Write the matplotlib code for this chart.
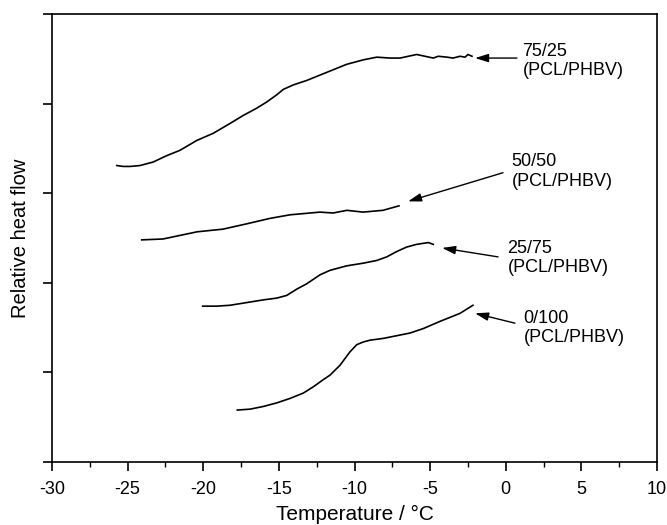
import matplotlib
matplotlib.use("Agg")
import matplotlib.pyplot as plt
from matplotlib.ticker import MultipleLocator, NullFormatter

plt.rcParams['font.family'] = ['Liberation Sans', 'DejaVu Sans']
plt.rcParams['axes.unicode_minus'] = False

# curves (temperature in degC, relative heat flow)
t_7525 = [-25.72, -25.29, -24.84, -24.18, -23.30, -22.42, -21.54, -20.43, -19.34, -18.23,
          -17.35, -16.47, -15.80, -15.14, -14.71, -14.05, -13.16, -12.28, -11.40, -10.52,
          -9.42, -8.53, -7.65, -6.99, -5.89, -4.79, -4.46, -3.88, -3.49, -3.02, -2.69, -2.50, -2.23]
h_7525 = [3.31, 3.30, 3.30, 3.31, 3.35, 3.42, 3.48, 3.59, 3.67, 3.78,
          3.87, 3.95, 4.02, 4.10, 4.16, 4.21, 4.26, 4.32, 4.38, 4.44,
          4.49, 4.52, 4.51, 4.51, 4.55, 4.51, 4.53, 4.52, 4.51, 4.53, 4.52, 4.55, 4.53]

t_5050 = [-24.07, -22.66, -20.41, -18.69, -17.11, -15.59, -14.26, -12.28, -11.42, -10.50, -9.44, -8.12, -7.06]
h_5050 = [2.48, 2.49, 2.57, 2.60, 2.66, 2.72, 2.76, 2.79, 2.78, 2.81, 2.79, 2.81, 2.86]

t_2575 = [-20.04, -19.11, -18.23, -17.13, -16.03, -15.14, -14.48, -13.82, -13.16, -12.28, -11.62,
          -11.18, -10.52, -9.42, -8.53, -7.87, -7.21, -6.55, -5.89, -5.12, -4.79]
h_2575 = [1.74, 1.74, 1.75, 1.78, 1.81, 1.83, 1.86, 1.93, 1.99, 2.09, 2.14,
          2.16, 2.19, 2.22, 2.25, 2.29, 2.35, 2.40, 2.43, 2.45, 2.43]

t_0100 = [-17.75, -16.91, -16.03, -15.14, -14.26, -13.38, -12.72, -12.06, -11.62, -10.96, -10.30,
          -9.85, -9.42, -8.98, -8.10, -7.21, -6.33, -5.45, -4.35, -3.02, -2.17]
h_0100 = [0.58, 0.59, 0.62, 0.66, 0.71, 0.77, 0.84, 0.92, 0.97, 1.08, 1.23,
          1.31, 1.34, 1.36, 1.38, 1.41, 1.44, 1.49, 1.57, 1.66, 1.75]

labels = ["75/25\n(PCL/PHBV)", "50/50\n(PCL/PHBV)", "25/75\n(PCL/PHBV)", "0/100\n(PCL/PHBV)"]
# arrow head, arrow tail, label top-left
heads = [(-2.03, 4.51), (-6.46, 2.91), (-4.21, 2.39), (-2.03, 1.66)]
tails = [(0.74, 4.51), (-0.18, 3.23), (-0.51, 2.29), (0.61, 1.55)]
label_pos = [(1.10, 4.68), (0.38, 3.45), (0.12, 2.48), (1.18, 1.70)]

fig = plt.figure(figsize=(6.67, 5.25), dpi=100)
ax = fig.add_axes([0.078, 0.12, 0.907, 0.853])

for t, h in [(t_7525, h_7525), (t_5050, h_5050), (t_2575, h_2575), (t_0100, h_0100)]:
    ax.plot(t, h, color='black', lw=1.2)

for lab, hd, tl, lp in zip(labels, heads, tails, label_pos):
    ax.annotate("", xy=hd, xytext=tl,
                arrowprops=dict(arrowstyle='-|>,head_length=0.8,head_width=0.25',
                                color='black', lw=1.0, shrinkA=0, shrinkB=0))
    ax.text(lp[0], lp[1], lab, fontsize=13, ha='left', va='top', linespacing=1.2)

ax.set_xlim(-30, 10)
ax.set_ylim(0, 5)
ax.xaxis.set_major_locator(MultipleLocator(5))
ax.xaxis.set_minor_locator(MultipleLocator(2.5))
ax.yaxis.set_major_locator(MultipleLocator(1))
ax.yaxis.set_major_formatter(NullFormatter())
ax.tick_params(axis='both', which='major', direction='out', length=6.5, width=1.2,
               labelsize=13, pad=7)
ax.tick_params(axis='x', which='minor', direction='out', length=3.5, width=1.0)
for s in ax.spines.values():
    s.set_linewidth(1.2)

ax.set_xlabel("Temperature / °C", fontsize=15, labelpad=5)
ax.set_ylabel("Relative heat flow", fontsize=14.5, labelpad=2)

fig.savefig("out.png", dpi=100)
